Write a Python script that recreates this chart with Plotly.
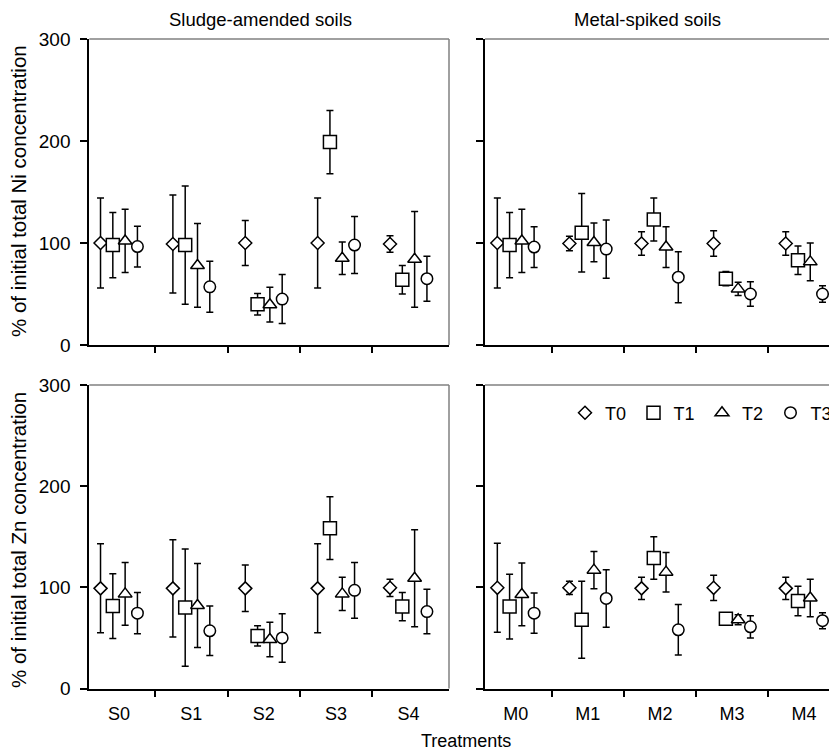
import plotly.graph_objects as go

# ---------------- data ----------------
SLUDGE_CATS = ["S0", "S1", "S2", "S3", "S4"]
METAL_CATS = ["M0", "M1", "M2", "M3", "M4"]
TREATMENTS = ["T0", "T1", "T2", "T3"]

# Ni, sludge-amended soils (rows T0..T3, columns S0..S4)
NI_SLUDGE_MEAN = [
    [100, 99, 100, 100, 99],
    [98, 98, 40, 199, 64],
    [102, 78, 39.5, 85, 84],
    [96.5, 57, 45, 98, 65],
]
NI_SLUDGE_ERR = [
    [44, 48, 22, 44, 8],
    [32, 58, 10.5, 31, 14],
    [31, 41, 17, 16, 47],
    [20, 25, 24, 28, 22],
]
# Ni, metal-spiked soils
NI_METAL_MEAN = [
    [100, 99.5, 99.5, 99.5, 99.5],
    [98, 110, 123, 65, 83],
    [102, 100.5, 96, 55, 81.5],
    [96, 94, 66.5, 50, 50],
]
NI_METAL_ERR = [
    [44, 7, 11.5, 12.5, 11.5],
    [32, 38.5, 21, 7, 14],
    [31, 19, 20, 6.5, 18.5],
    [20, 28.5, 25, 12, 8],
]
# Zn, sludge-amended soils
ZN_SLUDGE_MEAN = [
    [99, 99, 99, 99, 99.5],
    [81.5, 80, 52, 158.5, 81],
    [93.5, 82, 48.5, 93.5, 109],
    [74.5, 57, 50, 97, 76],
]
ZN_SLUDGE_ERR = [
    [44, 48, 23, 44, 8.5],
    [32, 58, 10, 31, 14],
    [31, 41.5, 17, 16.5, 48],
    [20.5, 24.5, 24, 27.5, 22],
]
# Zn, metal-spiked soils
ZN_METAL_MEAN = [
    [99.5, 99.5, 99, 99.5, 99],
    [81, 68, 129, 69, 86.5],
    [93, 117, 115, 68, 89.5],
    [74.5, 89, 58, 61, 67],
]
ZN_METAL_ERR = [
    [44, 6.5, 11, 12.5, 11],
    [32, 38, 21, 5, 14.5],
    [31, 18.5, 19.5, 5, 18.5],
    [20, 28.5, 25, 11, 8],
]

Y_TICKS = [0, 100, 200, 300]
Y_TITLES = ["% of initial total Ni concentration", "% of initial total Zn concentration"]
PANEL_TITLES = ["Sludge-amended soils", "Metal-spiked soils"]
X_TITLE = "Treatments"

# ---------------- styling ----------------
FONT = "Liberation Sans, Arial, sans-serif"
OFFSETS = [-0.255, -0.085, 0.085, 0.255]
SYMBOLS = ["diamond", "square", "triangle-up", "circle"]
SIZES = [10, 13, 12, 11.5]

# the page body adds an 8 px margin; figure is sized to fit the 837x750 window
W, H = 829, 742
OFF = 8


def fx(px):
    return (px - OFF) / W


def fy(py):
    return 1 - (py - OFF) / H


fig = go.Figure()

panels = [
    ("x", "y", NI_SLUDGE_MEAN, NI_SLUDGE_ERR, False),
    ("x2", "y2", NI_METAL_MEAN, NI_METAL_ERR, False),
    ("x3", "y3", ZN_SLUDGE_MEAN, ZN_SLUDGE_ERR, False),
    ("x4", "y4", ZN_METAL_MEAN, ZN_METAL_ERR, True),
]

for xa, ya, means, errs, show in panels:
    for i, t in enumerate(TREATMENTS):
        fig.add_trace(go.Scatter(
            x=[k + OFFSETS[i] for k in range(len(means[i]))],
            y=means[i],
            mode="markers",
            name=t,
            legendgroup=t,
            showlegend=show,
            xaxis=xa, yaxis=ya,
            marker=dict(symbol=SYMBOLS[i], size=SIZES[i],
                        color="white", line=dict(color="black", width=1.5)),
            error_y=dict(type="data", array=errs[i], color="black",
                         thickness=1.5, width=3.5),
            hoverinfo="x+y",
        ))

xl = [fx(89.3), fx(449)]
xr = [fx(485), 1.0]
yt = [fy(345), fy(39)]
yb = [fy(688.5), fy(385)]


def xaxis(domain, rng, anchor, labels):
    return dict(
        domain=domain, range=rng, anchor=anchor, automargin=False,
        showline=True, linecolor="black", linewidth=2,
        showgrid=False, zeroline=False,
        tickmode="array", tickvals=list(range(5)), ticktext=labels if labels else [""] * 5,
        showticklabels=bool(labels),
        ticks="outside", ticklen=8, tickcolor="rgba(0,0,0,0)",
        tickfont=dict(family=FONT, size=18, color="black"),
        minor=dict(tickmode="array", tickvals=[0.5, 1.5, 2.5, 3.5], ticks="outside",
                   ticklen=6, tickwidth=2, tickcolor="black", showgrid=False),
        fixedrange=True,
    )


def yaxis(domain, anchor, labels):
    return dict(
        domain=domain, range=[0, 300], anchor=anchor, automargin=False,
        showline=True, linecolor="black", linewidth=2,
        showgrid=False, zeroline=False,
        tickmode="array", tickvals=Y_TICKS,
        showticklabels=labels,
        ticks="outside", ticklen=7, tickwidth=1.5, tickcolor="black",
        ticklabelstandoff=6,
        tickfont=dict(family=FONT, size=19, color="black"),
        fixedrange=True,
    )


RL = [-0.41, 4.56]
RR = [-0.426, 4.456]

fig.update_layout(
    template="none",
    width=W, height=H,
    margin=dict(l=0, r=0, t=0, b=0, autoexpand=False),
    paper_bgcolor="white", plot_bgcolor="white",
    font=dict(family=FONT, size=18, color="black"),
    xaxis=xaxis(xl, RL, "y", None),
    yaxis=yaxis(yt, "x", True),
    xaxis2=xaxis(xr, RR, "y2", None),
    yaxis2=yaxis(yt, "x2", False),
    xaxis3=xaxis(xl, RL, "y3", SLUDGE_CATS),
    yaxis3=yaxis(yb, "x3", True),
    xaxis4=xaxis(xr, RR, "y4", METAL_CATS),
    yaxis4=yaxis(yb, "x4", False),
    legend=dict(orientation="h", x=fx(565), xanchor="left", y=fy(413), yanchor="middle",
                bgcolor="rgba(0,0,0,0)", font=dict(family=FONT, size=18, color="black"),
                entrywidth=23.5, itemwidth=30, tracegroupgap=0, borderwidth=0),
    showlegend=True,
)

# gray top/right frame lines
shapes = []
for xa, ya, right in [("x", "y", True), ("x2", "y2", False), ("x3", "y3", True), ("x4", "y4", False)]:
    shapes.append(dict(type="line", xref=f"{xa} domain", yref=f"{ya} domain",
                       x0=0, x1=1, y0=1, y1=1, line=dict(color="#808080", width=1.5)))
    if right:
        shapes.append(dict(type="line", xref=f"{xa} domain", yref=f"{ya} domain",
                           x0=1, x1=1, y0=0, y1=1, line=dict(color="#808080", width=1.5)))
fig.update_layout(shapes=shapes)


def text_ann(text, px, py, size, angle=0):
    return dict(text=text, x=fx(px), y=fy(py), xref="paper", yref="paper",
                showarrow=False, xanchor="center", yanchor="middle", textangle=angle,
                borderpad=0,
                font=dict(family=FONT, size=size, color="black"))


ann = [
    text_ann(PANEL_TITLES[0], 261, 20, 18.5),
    text_ann(PANEL_TITLES[1], 647, 20, 18.5),
    text_ann(X_TITLE, 466, 741, 18),
    text_ann(Y_TITLES[0], 18, 191, 20.5, -90),
    text_ann(Y_TITLES[1], 18, 540, 20.5, -90),
]
fig.update_layout(annotations=ann)

fig.write_html("out.html")
